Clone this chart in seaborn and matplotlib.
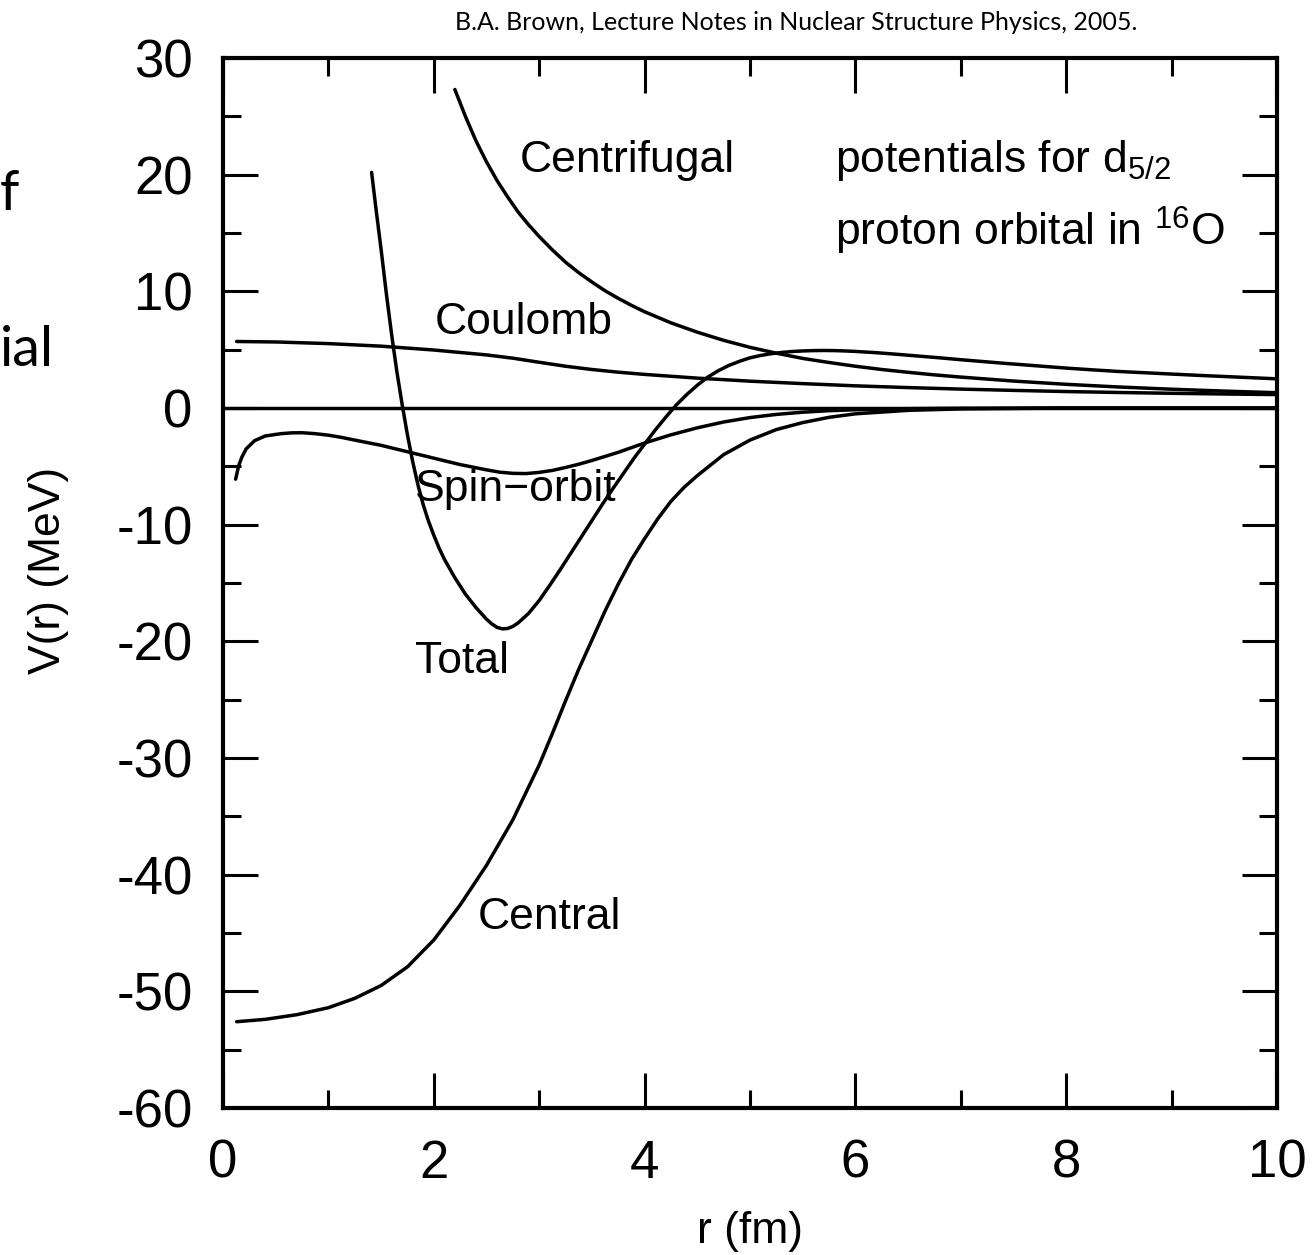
import matplotlib
matplotlib.use("Agg")
import matplotlib.pyplot as plt
import seaborn as sns

# values (r in fm, V in MeV)
r_central = [0.13, 0.4, 0.7, 1.0, 1.25, 1.5, 1.75, 2.0, 2.25, 2.5, 2.75, 3.0, 3.125,
             3.25, 3.375, 3.5, 3.625, 3.75, 3.875, 4.0, 4.125, 4.25, 4.375, 4.5, 4.75,
             5.0, 5.25, 5.5, 5.75, 6.0, 6.5, 7.0, 8.0, 10.0]
v_central = [-52.6, -52.4, -52.0, -51.4, -50.6, -49.5, -47.9, -45.6, -42.6, -39.2,
             -35.3, -30.6, -27.9, -25.1, -22.4, -19.9, -17.4, -15.1, -13.0, -11.2, -9.5,
             -8.0, -6.8, -5.8, -4.0, -2.75, -1.85, -1.25, -0.8, -0.5, -0.2, -0.08, 0.0, 0.0]

r_so = [0.12, 0.15, 0.18, 0.22, 0.3, 0.4, 0.55, 0.65, 0.75, 0.875, 1.0, 1.125, 1.25,
        1.5, 1.75, 2.0, 2.25, 2.5, 2.625, 2.75, 2.875, 3.0, 3.125, 3.25, 3.375, 3.5,
        3.625, 3.75, 3.875, 4.0, 4.125, 4.25, 4.375, 4.5, 4.75, 5.0, 5.25, 5.5, 5.75,
        6.0, 6.5, 7.0, 8.0, 10.0]
v_so = [-6.1, -4.9, -4.2, -3.5, -2.8, -2.4, -2.2, -2.13, -2.12, -2.2, -2.33, -2.52,
        -2.75, -3.2, -3.75, -4.3, -4.85, -5.3, -5.5, -5.6, -5.62, -5.52, -5.35, -5.1,
        -4.82, -4.5, -4.15, -3.8, -3.4, -3.0, -2.65, -2.3, -2.0, -1.7, -1.2, -0.82,
        -0.55, -0.36, -0.23, -0.15, -0.06, -0.02, 0.0, 0.0]

r_coul = [0.13, 0.5, 1.0, 1.5, 2.0, 2.5, 2.75, 3.0, 3.25, 3.5, 3.75, 4.0, 4.5, 5.0, 5.5,
          6.0, 6.5, 7.0, 7.5, 8.0, 8.5, 9.0, 9.5, 10.0]
v_coul = [5.7, 5.66, 5.52, 5.3, 4.97, 4.55, 4.27, 3.92, 3.58, 3.3, 3.07, 2.88, 2.56,
          2.3, 2.09, 1.9, 1.75, 1.62, 1.51, 1.41, 1.33, 1.26, 1.2, 1.15]

r_cent = [2.2, 2.3, 2.4, 2.5, 2.6, 2.7, 2.8, 2.9, 3.0, 3.125, 3.25, 3.375, 3.5, 3.625,
          3.75, 3.875, 4.0, 4.25, 4.5, 4.75, 5.0, 5.25, 5.5, 5.75, 6.0, 6.25, 6.5, 6.75,
          7.0, 7.5, 8.0, 8.5, 9.0, 9.5, 10.0]
v_cent = [27.3, 25.0, 22.9, 21.1, 19.5, 18.1, 16.8, 15.7, 14.7, 13.55, 12.5, 11.6, 10.8,
          10.05, 9.4, 8.8, 8.25, 7.3, 6.5, 5.8, 5.2, 4.7, 4.25, 3.9, 3.58, 3.3, 3.06,
          2.84, 2.65, 2.31, 2.03, 1.8, 1.61, 1.45, 1.31]

r_total = [1.41, 1.45, 1.5, 1.55, 1.6, 1.65, 1.7, 1.75, 1.8, 1.85, 1.9, 1.95, 2.0, 2.05,
           2.1, 2.2, 2.3, 2.4, 2.5, 2.55, 2.6, 2.65, 2.7, 2.75, 2.8, 2.9, 3.0, 3.1, 3.2,
           3.3, 3.4, 3.5, 3.6, 3.7, 3.8, 3.9, 4.0, 4.1, 4.2, 4.3, 4.4, 4.5, 4.6, 4.7,
           4.8, 4.9, 5.0, 5.1, 5.2, 5.3, 5.4, 5.5, 5.6, 5.7, 5.8, 5.9, 6.0, 6.2, 6.4,
           6.6, 6.8, 7.0, 7.2, 7.4, 7.6, 7.8, 8.0, 8.25, 8.5, 8.75, 9.0, 9.25, 9.5,
           9.75, 10.0]
v_total = [20.2, 17.2, 13.6, 9.8, 6.3, 3.1, 0.3, -2.3, -4.6, -6.6, -8.3, -9.7, -10.9,
           -12.0, -12.95, -14.55, -15.95, -17.1, -18.1, -18.5, -18.8, -18.93, -18.9,
           -18.72, -18.42, -17.6, -16.5, -15.2, -13.85, -12.45, -11.05, -9.65, -8.25,
           -6.9, -5.6, -4.3, -3.1, -1.9, -0.8, 0.25, 1.15, 1.95, 2.65, 3.2, 3.65, 4.0,
           4.3, 4.5, 4.65, 4.76, 4.84, 4.89, 4.92, 4.93, 4.92, 4.89, 4.85, 4.74, 4.6,
           4.45, 4.3, 4.14, 3.99, 3.84, 3.7, 3.56, 3.42, 3.27, 3.13, 3.02, 2.91, 2.8,
           2.7, 2.6, 2.5]

x_ticks = [0, 2, 4, 6, 8, 10]
y_ticks = [-60, -50, -40, -30, -20, -10, 0, 10, 20, 30]

sns.set_style("ticks")
plt.rcParams['font.family'] = ['Liberation Sans', 'DejaVu Sans']
plt.rcParams['mathtext.fontset'] = 'custom'
plt.rcParams['mathtext.rm'] = 'Liberation Sans'
plt.rcParams['mathtext.it'] = 'Liberation Sans:italic'
plt.rcParams['axes.unicode_minus'] = False
plt.rcParams['text.color'] = 'black'
plt.rcParams['axes.labelcolor'] = 'black'

fig = plt.figure(figsize=(13.14, 12.55), dpi=100)
ax = fig.add_axes([0.1697, 0.1171, 0.8021, 0.8367])

lw = 2.5
for xs, ys in [(r_central, v_central), (r_so, v_so), (r_coul, v_coul),
               (r_cent, v_cent), (r_total, v_total)]:
    sns.lineplot(x=xs, y=ys, ax=ax, color='black', lw=lw, estimator=None, sort=False)
ax.axhline(0, color='black', lw=lw)

ax.set_xlim(0, 10)
ax.set_ylim(-60, 30)
ax.set_xticks(x_ticks)
ax.set_yticks(y_ticks)
ax.set_xticks([1, 3, 5, 7, 9], minor=True)
ax.set_yticks([-55, -45, -35, -25, -15, -5, 5, 15, 25], minor=True)
ax.tick_params(which='both', direction='in', top=True, right=True, width=2.2,
               labelsize=38, color='black', labelcolor='black')
ax.tick_params(which='major', length=25, pad=22)
ax.tick_params(which='minor', length=13)
for s in ax.spines.values():
    s.set_linewidth(3.0)
    s.set_color('black')

ax.set_xlabel('r (fm)', fontsize=32, labelpad=16)
ax.set_ylabel('V(r) (MeV)', fontsize=32)
ax.yaxis.set_label_coords(-0.146, 0.512)

fs = 32
ax.text(2.82, 21.2, 'Centrifugal', fontsize=fs, va='center')
ax.text(5.81, 21.2, r'potentials for d$_{\mathrm{5/2}}$', fontsize=fs, va='center')
ax.text(5.81, 15.2, r'proton orbital in $^{\mathrm{16}}$O', fontsize=fs, va='center')
ax.text(2.01, 7.3, 'Coulomb', fontsize=fs, va='center')
ax.text(1.82, -7.0, 'Spin\u2212orbit', fontsize=fs, va='center')
ax.text(1.82, -21.7, 'Total', fontsize=fs, va='center')
ax.text(2.42, -43.7, 'Central', fontsize=fs, va='center')

fig.text(455 / 1314, 1 - 23 / 1255, 'B.A. Brown, Lecture Notes in Nuclear Structure Physics, 2005.',
         fontsize=18, family=['Lato', 'DejaVu Sans'], va='center', ha='left')
# remnants of slide text at the left edge
fig.text(0.0, 1 - 195 / 1255, 'f', fontsize=40, family=['Lato', 'DejaVu Sans'],
         va='center', ha='left')
fig.text(0.0, 1 - 350 / 1255, 'ial', fontsize=40, family=['Lato', 'DejaVu Sans'],
         va='center', ha='left')

fig.savefig('out.png', dpi=100, facecolor='white')
